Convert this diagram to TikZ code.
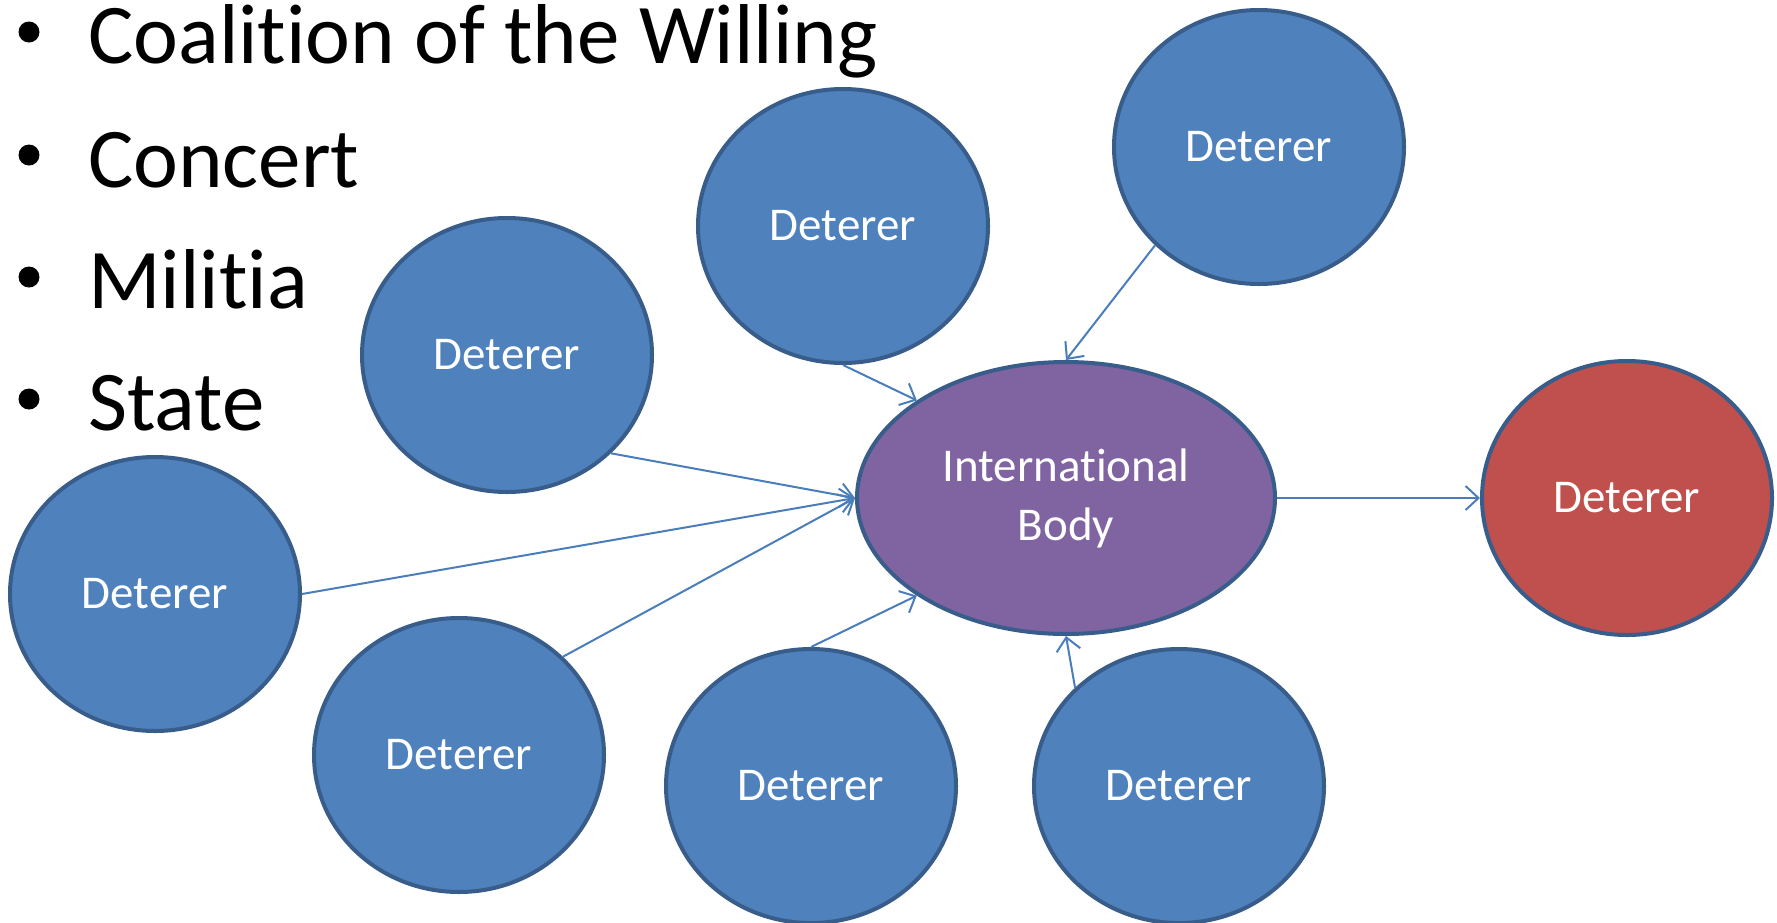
\documentclass[tikz,border=0pt]{standalone}
\usepackage{fontspec}
\setmainfont{Carlito}[Ligatures=CommonOff]
\usetikzlibrary{arrows.meta,shapes.geometric}

\definecolor{detblue}{HTML}{4F81BD}
\definecolor{edgeblue}{HTML}{385D8A}
\definecolor{bodypurple}{HTML}{8064A2}
\definecolor{detred}{HTML}{C0504D}
\definecolor{linkblue}{HTML}{4A7EBB}

\begin{document}
\begin{tikzpicture}[x=1pt,y=1pt,
  deterer/.style={ellipse,draw=edgeblue,line width=4pt,fill=detblue,text=white,
    minimum width=290pt,minimum height=274pt,inner sep=0pt,
    font=\fontsize{47}{59}\selectfont},
  link/.style={draw=linkblue,line width=2pt,-{Straight Barb[length=13pt,width=24pt]}},
  item/.style={anchor=base west,inner sep=0pt,font=\fontsize{85}{100}\selectfont},
  dot/.style={circle,fill=black,inner sep=0pt,minimum size=21pt}]

  \useasboundingbox (0,0) rectangle (1777,-922);

  % the list
  \draw (29,-32) node[dot] (d1) {};
  \draw (88,-63) node[item] (l1) {Coalition of the Willing};
  \draw (29,-155) node[dot] (d2) {};
  \draw (88,-187) node[item] (l2) {Concert};
  \draw (29,-277) node[dot] (d3) {};
  \draw (88,-308) node[item] (l3) {Militia};
  \draw (29,-399) node[dot] (d4) {};
  \draw (88,-430) node[item] (l4) {State};

  % the deterers
  \draw (843,-226) node[deterer] (tm) {Deterer};
  \draw (1259,-147) node[deterer] (tr) {Deterer};
  \draw (507,-355) node[deterer] (lu) {Deterer};
  \draw (155,-594) node[deterer] (fl) {Deterer};
  \draw (459,-755) node[deterer] (ll) {Deterer};
  \draw (811,-786) node[deterer] (bm) {Deterer};
  \draw (1179,-786) node[deterer] (br) {Deterer};

  \draw (1066,-498) node[deterer,fill=bodypurple,minimum width=418pt,minimum height=272pt,align=center] (ib) {International\\Body};
  \draw (1627,-498) node[deterer,fill=detred] (rd) {Deterer};

  \draw[link] (tm.south) -- (ib.north west);
  \draw[link] (tr.south west) -- (ib.north);
  \draw[link] (lu.south east) -- (ib.west);
  \draw[link] (fl.east) -- (ib.west);
  \draw[link] (ll.north east) -- (ib.west);
  \draw[link] (bm.north) -- (ib.south west);
  \draw[link] (br.north west) -- (ib.south);
  \draw[link] (ib.east) -- (rd.west);

\end{tikzpicture}
\end{document}
